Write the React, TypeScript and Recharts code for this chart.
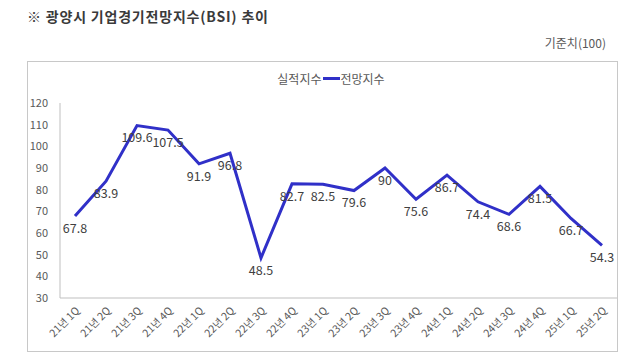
import React from 'react';
import { LineChart, Line, XAxis, YAxis, LabelList, Legend } from 'recharts';

const categories = ['21년 1Q','21년 2Q','21년 3Q','21년 4Q','22년 1Q','22년 2Q','22년 3Q','22년 4Q','23년 1Q','23년 2Q','23년 3Q','23년 4Q','24년 1Q','24년 2Q','24년 3Q','24년 4Q','25년 1Q','25년 2Q'];
const outlookValues = [67.8, 83.9, 109.6, 107.5, 91.9, 96.8, 48.5, 82.7, 82.5, 79.6, 90, 75.6, 86.7, 74.4, 68.6, 81.5, 66.7, 54.3];
const yTicks = [30, 40, 50, 60, 70, 80, 90, 100, 110, 120];

const data = categories.map((c, i) => ({ name: c, outlook: outlookValues[i] }));

const FONT = '"Noto Sans CJK KR", "Noto Sans", sans-serif';
const LINE_COLOR = '#3030C8';

const LegendContent = () => (
  <div style={{ display: 'flex', alignItems: 'center', justifyContent: 'center', fontFamily: FONT, fontSize: 12, color: '#595959' }}>
    <span>실적지수</span>
    <span style={{ display: 'inline-block', width: 17, height: 3, background: LINE_COLOR, margin: '0 1px' }} />
    <span>전망지수</span>
  </div>
);

export default function App() {
  return (
    <div style={{ position: 'absolute', left: 0, top: 0, width: 640, height: 361, background: '#fff', fontFamily: FONT }}>
      <div style={{ position: 'absolute', left: 27, top: 6, fontSize: 14, fontWeight: 700, letterSpacing: 0.8, color: '#3a3a3a', whiteSpace: 'nowrap', lineHeight: '20px' }}>
        ※ 광양시 기업경기전망지수(BSI) 추이
      </div>
      <div style={{ position: 'absolute', right: 34, top: 34, fontSize: 12, color: '#595959', whiteSpace: 'nowrap', lineHeight: '18px' }}>
        기준치(100)
      </div>
      <div style={{ position: 'absolute', left: 27, top: 61, width: 589, height: 289, border: '1px solid #c8c8c8' }} />
      <div style={{ position: 'absolute', left: 0, top: 0 }}>
        <LineChart width={640} height={361} data={data} margin={{ top: 86, right: 23, bottom: 0, left: 0 }}>
          <XAxis
            dataKey="name"
            interval={0}
            padding={{ left: 15, right: 15 }}
            tickLine={false}
            axisLine={{ stroke: '#bfbfbf' }}
            height={63}
            angle={-45}
            textAnchor="end"
            tickMargin={2}
            tick={{ fontSize: 10.5, fill: '#595959', fontFamily: FONT }}
          />
          <YAxis
            domain={[30, 120]}
            ticks={yTicks}
            interval={0}
            width={60}
            tickLine={false}
            axisLine={{ stroke: '#bfbfbf' }}
            tickMargin={6}
            tick={{ fontSize: 11, fill: '#595959', fontFamily: FONT }}
          />
          <Legend
            verticalAlign="top"
            content={<LegendContent />}
            wrapperStyle={{ position: 'absolute', top: 70, left: 225, width: 212 }}
          />
          <Line
            type="linear"
            dataKey="outlook"
            name="전망지수"
            stroke={LINE_COLOR}
            strokeWidth={3}
            dot={false}
            isAnimationActive={false}
          >
            <LabelList dataKey="outlook" position="bottom" offset={8} style={{ fontSize: 12.5, fill: '#404040', fontFamily: FONT }} />
          </Line>
        </LineChart>
      </div>
    </div>
  );
}
